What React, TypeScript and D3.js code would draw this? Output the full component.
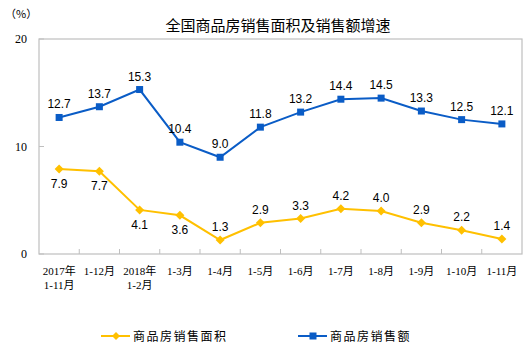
import React from "react";
import * as d3 from "d3";

const categories: string[][] = [
  ["2017年", "1-11月"],
  ["1-12月"],
  ["2018年", "1-2月"],
  ["1-3月"],
  ["1-4月"],
  ["1-5月"],
  ["1-6月"],
  ["1-7月"],
  ["1-8月"],
  ["1-9月"],
  ["1-10月"],
  ["1-11月"],
];
const areaGrowth = [7.9, 7.7, 4.1, 3.6, 1.3, 2.9, 3.3, 4.2, 4.0, 2.9, 2.2, 1.4];
const amountGrowth = [12.7, 13.7, 15.3, 10.4, 9.0, 11.8, 13.2, 14.4, 14.5, 13.3, 12.5, 12.1];
const areaLabelBelow = [true, true, true, true, false, false, false, false, false, false, false, false];
const yTicks = [0, 10, 20];
const title = "全国商品房销售面积及销售额增速";
const seriesNames = ["商品房销售面积", "商品房销售额"];

const W = 531;
const H = 354;
const left = 39;
const right = 522;
const top = 39;
const bottom = 254;
const YELLOW = "#FFC000";
const BLUE = "#0A5CC6";
const CJK = "'Noto Sans CJK SC', sans-serif";
const NUM = "'Liberation Sans', Arial, sans-serif";
const SERIF = "'Liberation Serif', 'Noto Sans CJK SC', serif";

export default function App() {
  const x = d3
    .scaleBand<number>()
    .domain(d3.range(categories.length))
    .range([left, right])
    .padding(0);
  const y = d3.scaleLinear().domain([0, 20]).range([bottom, top]);
  const cx = (i: number) => (x(i) as number) + x.bandwidth() / 2;
  const line = d3
    .line<number>()
    .x((_, i) => cx(i))
    .y((d) => y(d));
  const diamond = (s: number) => `M0,${-s}L${s},0L0,${s}L${-s},0Z`;

  return (
    <svg width={W} height={H} style={{ position: "absolute", left: 0, top: 0 }}>
      <rect width={W} height={H} fill="#fff" />
      <text x={278} y={31} textAnchor="middle" fontFamily={CJK} fontSize={15} fontWeight={400} fill="#000">
        {title}
      </text>
      <text x={5} y={18} fontFamily={CJK} fontSize={11} fill="#000">
        （%）
      </text>
      <rect x={left} y={top} width={right - left} height={bottom - top} fill="none" stroke="#BFBFBF" strokeWidth={1.2} />
      {yTicks.map((t) => (
        <g key={t}>
          <line x1={left} x2={left + 5} y1={y(t)} y2={y(t)} stroke="#BFBFBF" />
          <text x={27} y={y(t) + 4} textAnchor="end" fontFamily={SERIF} fontSize={12} fill="#000">
            {t}
          </text>
        </g>
      ))}
      {d3.range(1, categories.length).map((i) => (
        <line key={i} x1={x(i)} x2={x(i)} y1={bottom} y2={bottom - 5} stroke="#BFBFBF" />
      ))}
      {categories.map((lines, i) => (
        <text key={i} x={cx(i)} y={275} textAnchor="middle" fontFamily={SERIF} fontSize={11} fill="#000">
          {lines.map((l, j) => (
            <tspan key={j} x={cx(i)} dy={j === 0 ? 0 : 14}>
              {l}
            </tspan>
          ))}
        </text>
      ))}
      <path d={line(amountGrowth) || ""} fill="none" stroke={BLUE} strokeWidth={2} />
      <path d={line(areaGrowth) || ""} fill="none" stroke={YELLOW} strokeWidth={2} />
      {amountGrowth.map((v, i) => (
        <g key={i}>
          <rect x={cx(i) - 3.5} y={y(v) - 3.5} width={7} height={7} fill={BLUE} />
          <text x={cx(i)} y={y(v) - 9} textAnchor="middle" fontFamily={NUM} fontSize={12} fill="#000">
            {v.toFixed(1)}
          </text>
        </g>
      ))}
      {areaGrowth.map((v, i) => (
        <g key={i}>
          <path d={diamond(4.5)} transform={`translate(${cx(i)},${y(v)})`} fill={YELLOW} />
          <text
            x={cx(i)}
            y={areaLabelBelow[i] ? y(v) + 19 : y(v) - 9}
            textAnchor="middle"
            fontFamily={NUM}
            fontSize={12}
            fill="#000"
          >
            {v.toFixed(1)}
          </text>
        </g>
      ))}
      <g>
        <line x1={101} x2={130} y1={336} y2={336} stroke={YELLOW} strokeWidth={2} />
        <path d={diamond(4)} transform="translate(116,336)" fill={YELLOW} />
        <text x={133} y={340.5} fontFamily={CJK} fontSize={12} letterSpacing={1.5} fill="#000">
          {seriesNames[0]}
        </text>
        <line x1={298} x2={327} y1={336} y2={336} stroke={BLUE} strokeWidth={2} />
        <rect x={309.5} y={332.5} width={7} height={7} fill={BLUE} />
        <text x={330} y={340.5} fontFamily={CJK} fontSize={12} letterSpacing={1.5} fill="#000">
          {seriesNames[1]}
        </text>
      </g>
    </svg>
  );
}
